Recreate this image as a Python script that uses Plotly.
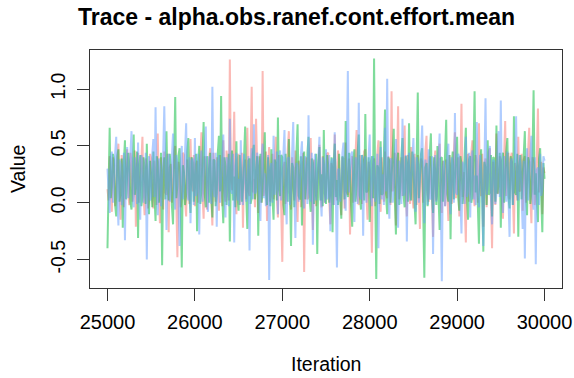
import numpy as np
import plotly.graph_objects as go

# Iterations (thinned draws, every 12.5 iterations) and chain values
iter_start, iter_end, n_draws = 25000, 30000, 401
iterations = np.linspace(iter_start, iter_end, n_draws)

chain1 = [
    0.12, 0.02, 0.41, 0.20, -0.08, 0.40, 0.33, -0.03, 0.05, 0.38, 0.52, 0.10, -0.15, 0.42, 0.28, -0.04, 0.18, 0.35, 0.47, 0.08,
    -0.02, 0.44, 0.36, 0.01, 0.09, 0.46, -0.21, 0.33, 0.44, 0.00, 0.15, 0.41, 0.58, 0.06, -0.11, 0.39, 0.30, -0.05, 0.02, 0.43,
    0.39, 0.03, -0.05, 0.37, 0.25, -0.02, 0.61, 0.14, -0.18, 0.40, 0.20, -0.06, 0.45, 0.09, 0.07, 0.43, -0.26, 0.31, 0.34, 0.00,
    0.13, 0.45, 0.50, 0.05, -0.48, 0.36, 0.27, -0.04, 0.04, 0.44, 0.42, 0.02, -0.12, 0.38, 0.22, -0.01, 0.56, 0.17, 0.10, 0.42,
    -0.03, 0.34, 0.37, 0.00, 0.19, 0.45, 0.62, 0.07, -0.14, 0.41, 0.31, -0.06, 0.08, 0.39, 0.48, 0.04, -0.20, 0.44, 0.26, 0.01,
    0.40, 0.08, -0.07, 0.42, 0.16, -0.03, 0.55, 0.12, 0.01, 0.46, 0.35, 0.02, 1.26, 0.20, 0.11, 0.33, 0.80, 0.05, -0.10, 0.38,
    0.43, -0.02, 0.17, 0.44, -0.22, 0.30, 0.38, 0.03, 0.66, 0.10, 0.06, 0.40, 1.02, 0.09, 0.21, -0.04, 0.74, 0.15, -0.09, 0.41,
    0.32, 0.00, 1.16, 0.06, 0.14, 0.45, -0.16, 0.36, 0.49, 0.01, 0.24, 0.43, 0.03, 0.39, 0.58, 0.04, -0.13, 0.42, 0.29, -0.05,
    -0.52, 0.31, 0.36, -0.01, 0.10, 0.47, 0.63, 0.08, -0.06, 0.40, 0.23, 0.02, 0.46, 0.11, -0.17, 0.37, 0.33, -0.04, 0.12, 0.44,
    -0.61, 0.28, 0.40, 0.03, 0.05, 0.42, 0.57, 0.10, -0.24, 0.38, 0.27, -0.03, 0.15, 0.45, 0.51, 0.06, -0.04, 0.41, 0.34, 0.00,
    0.09, 0.43, 0.44, 0.01, -0.19, 0.35, 0.30, -0.02, 0.60, 0.13, 0.02, 0.46, 0.37, 0.05, -0.11, 0.40, 0.25, -0.05, 0.53, 0.09,
    0.07, 0.39, -0.28, 0.22, 0.41, 0.00, 0.18, 0.44, 0.64, 0.04, -0.02, 0.42, 0.32, -0.01, 0.13, 0.45, 0.47, 0.07, -0.15, 0.36,
    0.28, 0.02, -0.44, 0.33, 0.39, -0.03, 0.11, 0.43, 0.55, 0.06, -0.08, 0.40, 0.22, 0.01, 0.45, 0.08, 0.04, 0.41, 0.35, -0.02,
    0.98, 0.10, 0.16, 0.44, -0.20, 0.30, 0.85, 0.03, 0.26, 0.40, 0.06, 0.37, 0.68, 0.05, -0.12, 0.42, 0.31, -0.01, 0.49, 0.07,
    -0.05, 0.43, 0.20, -0.02, 0.42, 0.04, -0.23, 0.39, 0.36, 0.00, 0.12, 0.46, 0.59, 0.08, 0.01, 0.41, 0.29, 0.03, -0.30, 0.35,
    0.46, 0.02, 0.17, 0.44, 0.52, 0.06, -0.09, 0.37, 0.24, -0.03, 0.38, 0.09, -0.16, 0.42, 0.33, -0.01, 0.08, 0.45, 0.62, 0.04,
    0.14, 0.40, -0.12, 0.31, 0.87, 0.05, 0.27, -0.02, -0.35, 0.38, 0.43, 0.01, 0.10, 0.44, 0.55, 0.07, -0.03, 0.42, 0.34, 0.00,
    0.70, 0.11, 0.06, 0.43, -0.21, 0.34, 0.39, -0.04, 0.19, 0.45, 0.48, 0.03, -0.40, 0.36, 0.25, -0.02, 0.61, 0.08, 0.09, 0.41,
    0.37, 0.01, -0.14, 0.40, 0.72, 0.06, 0.21, 0.44, 0.03, 0.39, 0.44, -0.03, -0.27, 0.35, 0.30, 0.02, 0.58, 0.10, 0.11, 0.43,
    -0.07, 0.38, 0.41, 0.00, 0.16, 0.46, 0.66, 0.05, -0.18, 0.40, 0.35, -0.02, 0.07, 0.42, 0.83, 0.09, 0.23, 0.36, -0.10, 0.31,
    0.26,
]

chain2 = [
    -0.40, 0.30, 0.66, 0.04, 0.14, 0.43, 0.38, -0.02, -0.12, 0.41, 0.47, 0.01, 0.09, 0.39, -0.22, 0.36, 0.55, 0.03, 0.20, 0.44,
    0.33, 0.00, -0.06, 0.42, 0.60, 0.07, 0.17, 0.45, -0.31, 0.34, 0.42, -0.03, 0.05, 0.40, 0.29, -0.01, 0.52, 0.10, -0.10, 0.37,
    0.24, -0.04, 0.45, 0.06, -0.16, 0.41, 0.36, 0.00, 0.11, 0.44, -0.55, 0.29, 0.40, 0.03, 0.63, 0.12, 0.02, 0.43, 0.31, -0.03,
    -0.19, 0.39, 0.93, 0.04, 0.15, 0.42, 0.48, 0.02, -0.57, 0.33, 0.27, -0.02, 0.07, 0.45, 0.57, 0.05, -0.09, 0.40, 0.35, 0.01,
    0.19, 0.43, -0.25, 0.36, 0.50, -0.01, 0.12, 0.46, 0.71, 0.08, -0.04, 0.41, 0.28, 0.00, 0.44, 0.06, -0.13, 0.38, 0.37, -0.03,
    0.08, 0.44, 0.59, 0.10, 0.94, 0.05, -0.18, 0.40, 0.32, -0.02, 0.16, 0.43, -0.34, 0.31, 0.46, 0.02, 0.23, -0.04, 0.54, 0.07,
    -0.07, 0.42, 0.30, 0.01, 0.13, 0.45, 0.67, 0.06, -0.23, 0.37, 0.39, -0.01, 0.04, 0.43, 0.51, 0.03, 0.18, 0.41, -0.29, 0.33,
    0.43, 0.00, 0.10, 0.44, 0.62, 0.09, -0.02, 0.40, 0.26, -0.03, 0.47, 0.05, -0.15, 0.38, 0.34, 0.02, 0.75, 0.11, 0.06, 0.42,
    0.40, -0.02, -0.11, 0.43, 0.22, 0.01, 0.56, 0.08, -0.38, 0.35, 0.31, -0.04, 0.14, 0.45, 0.69, 0.06, 0.03, 0.41, -0.20, 0.36,
    0.45, 0.03, 0.17, 0.44, 0.58, 0.04, -0.08, 0.39, 0.35, -0.01, 0.12, 0.43, -0.45, 0.30, 0.49, 0.02, 0.25, -0.03, 0.64, 0.08,
    -0.01, 0.42, 0.33, 0.00, 0.09, 0.40, -0.26, 0.35, 0.52, 0.05, 0.20, -0.02, 0.43, 0.07, -0.14, 0.41, 0.38, 0.03, 0.72, 0.10,
    0.05, 0.44, 0.28, -0.03, -0.21, 0.38, 0.47, 0.01, 0.15, 0.45, 0.60, 0.06, -0.06, 0.42, 0.36, 0.02, 0.78, 0.09, 0.11, 0.40,
    -0.17, 0.36, 0.41, 0.04, 1.27, 0.12, -0.67, 0.33, 0.30, -0.01, 0.54, 0.07, 0.08, 0.43, 0.82, 0.05, -0.10, 0.40, 0.37, 0.00,
    0.19, 0.44, 0.65, 0.03, -0.28, 0.37, 0.44, -0.02, 0.13, 0.42, 0.57, 0.06, -0.04, 0.41, 0.32, 0.01, 0.70, 0.10, 0.02, 0.45,
    0.39, 0.00, -0.19, 0.38, 0.97, 0.04, 0.21, 0.43, 0.48, 0.02, -0.66, 0.31, 0.35, -0.03, 0.10, 0.44, 0.61, 0.07, -0.09, 0.40,
    0.27, -0.02, 0.50, 0.05, -0.24, 0.39, 0.40, 0.01, 0.16, 0.44, 0.73, 0.08, 0.01, 0.42, -0.32, 0.34, 0.45, 0.03, 0.22, 0.43,
    0.58, 0.04, -0.07, 0.41, 0.34, -0.01, 0.12, 0.45, 0.66, 0.06, -0.15, 0.38, 0.41, 0.00, 0.06, 0.43, 0.98, 0.09, 0.24, -0.03,
    -0.36, 0.32, 0.47, 0.02, -0.43, 0.36, 0.30, -0.02, 0.55, 0.07, 0.09, 0.42, -0.12, 0.40, 0.39, 0.01, 0.68, 0.08, 0.18, 0.44,
    -0.22, 0.37, 0.44, 0.00, 0.14, 0.45, 0.57, 0.05, -0.05, 0.41, 0.33, -0.02, 0.76, 0.09, 0.07, 0.43, -0.30, 0.33, 0.42, 0.03,
    0.20, 0.44, 0.63, 0.06, -0.11, 0.40, 0.36, -0.01, 0.10, 0.42, 0.99, 0.07, 0.26, 0.01, -0.17, 0.39, 0.48, 0.04, -0.26, 0.35,
    0.21,
]

chain3 = [
    0.30, 0.02, -0.09, 0.41, 0.45, 0.00, 0.16, 0.43, 0.58, 0.06, -0.20, 0.38, 0.34, -0.02, 0.07, 0.44, -0.33, 0.31, 0.49, 0.04,
    0.22, 0.45, 0.63, 0.08, -0.04, 0.40, 0.28, -0.01, 0.53, 0.03, -0.15, 0.42, 0.37, 0.00, 0.12, 0.44, -0.50, 0.29, 0.41, 0.02,
    0.06, 0.43, 0.56, 0.05, 0.84, 0.10, -0.11, 0.39, 0.32, -0.03, 0.18, 0.44, 0.85, 0.07, -0.24, 0.36, 0.43, 0.01, 0.09, 0.41,
    0.61, 0.04, -0.06, 0.42, 0.35, 0.00, -0.38, 0.34, 0.50, 0.03, 0.15, 0.45, 0.70, 0.09, 0.02, 0.40, -0.18, 0.37, 0.39, -0.02,
    0.57, 0.06, 0.11, 0.43, -0.28, 0.33, 0.46, 0.01, 0.24, 0.42, 0.67, 0.05, -0.08, 0.41, 0.31, -0.01, 1.02, 0.12, 0.05, 0.44,
    -0.21, 0.35, 0.42, 0.00, 0.19, 0.45, 0.60, 0.07, -0.13, 0.40, 0.36, -0.03, 0.74, 0.10, 0.08, 0.43, -0.35, 0.32, 0.44, 0.02,
    0.21, -0.02, 0.55, 0.05, -0.02, 0.43, 0.29, 0.01, 0.14, 0.41, -0.42, 0.30, 0.48, 0.03, 0.69, 0.08, 0.10, 0.44, 0.38, -0.01,
    -0.16, 0.40, 0.52, 0.04, 0.26, -0.03, 0.04, 0.42, -0.68, 0.31, 0.35, 0.00, 0.59, 0.07, 0.13, 0.45, -0.10, 0.38, 0.46, 0.02,
    0.17, 0.43, 0.64, 0.06, -0.19, 0.39, 0.40, -0.02, 0.08, 0.44, 0.71, 0.09, -0.31, 0.35, 0.33, 0.01, 0.15, 0.42, 0.54, 0.03,
    -0.05, 0.41, 0.27, -0.01, 0.77, 0.08, 0.01, 0.44, -0.37, 0.33, 0.43, 0.02, 0.20, 0.45, 0.58, 0.05, -0.12, 0.40, 0.32, 0.00,
    0.47, 0.03, 0.06, 0.42, -0.25, 0.36, 0.39, -0.02, 0.62, 0.07, -0.57, 0.29, 0.30, 0.01, 0.11, 0.44, 0.53, 0.04, -0.07, 0.41,
    1.16, 0.09, 0.23, 0.43, 0.45, 0.02, -0.17, 0.40, 0.36, -0.01, 0.88, 0.06, 0.03, 0.42, -0.29, 0.34, 0.41, 0.00, 0.18, 0.45,
    0.60, 0.05, -0.03, 0.41, 0.34, 0.01, 0.14, 0.43, -0.40, 0.32, 0.49, 0.03, 0.25, -0.02, 0.66, 0.10, 1.09, 0.08, -0.14, 0.39,
    0.38, 0.00, 0.09, 0.44, 0.56, 0.04, -0.22, 0.37, 0.31, -0.01, 0.74, 0.06, 0.12, 0.42, -0.34, 0.33, 0.44, 0.02, 0.20, 0.45,
    0.57, 0.07, -0.08, 0.40, 0.35, 0.00, 0.16, 0.43, 0.68, 0.05, -0.18, 0.38, 0.29, -0.02, 0.47, 0.03, 0.04, 0.41, -0.45, 0.31,
    0.42, 0.01, 0.22, 0.44, 0.61, 0.06, -0.69, 0.30, 0.37, -0.03, 0.13, 0.42, 0.52, 0.04, -0.10, 0.40, 0.28, 0.00, 0.79, 0.09,
    0.07, 0.43, 0.40, 0.02, -0.27, 0.36, 0.33, -0.01, 0.58, 0.05, 0.11, 0.44, -0.13, 0.39, 0.46, 0.03, 0.24, -0.02, 0.71, 0.08,
    -0.04, 0.42, 0.30, 0.00, -0.38, 0.33, 0.92, 0.07, 0.15, 0.44, 0.50, 0.03, -0.19, 0.38, 0.36, -0.01, 0.08, 0.45, 0.63, 0.05,
    0.90, 0.06, -0.09, 0.41, 0.27, 0.01, 0.45, 0.04, -0.30, 0.35, 0.39, -0.02, 0.17, 0.43, 0.76, 0.08, 0.02, 0.42, 0.34, 0.00,
    -0.23, 0.37, -0.49, 0.32, 0.48, 0.02, 0.21, 0.44, 0.59, 0.05, -0.06, 0.40, -0.54, 0.29, 0.31, -0.02, 0.43, 0.06, 0.12, 0.41,
    0.37,
]

chains = [chain1, chain2, chain3]
chain_colors = ["rgba(248,118,109,0.5)", "rgba(0,186,56,0.5)", "rgba(97,156,255,0.5)"]

x_ticks = [25000, 26000, 27000, 28000, 29000, 30000]
x_tick_labels = ["25000", "26000", "27000", "28000", "29000", "30000"]
y_ticks = [-0.5, 0.0, 0.5, 1.0]
y_tick_labels = ["-0.5", "0.0", "0.5", "1.0"]

fig = go.Figure()
for vals, col in zip(chains, chain_colors):
    fig.add_trace(go.Scatter(x=iterations, y=vals, mode="lines",
                             line=dict(color=col, width=2), showlegend=False,
                             hoverinfo="skip"))

font_family = "Liberation Sans, Arial, sans-serif"
fig.update_layout(
    width=574, height=378,
    margin=dict(l=90, r=12, t=50, b=90, autoexpand=False),
    paper_bgcolor="white", plot_bgcolor="white",
    font=dict(family=font_family, color="black"),
    title=dict(text="<b>Trace - alpha.obs.ranef.cont.effort.mean</b>",
               x=296.5 / 574, xanchor="center", xref="container",
               y=1 - 17 / 378, yanchor="middle", yref="container",
               font=dict(size=23, family=font_family, color="black")),
)
fig.update_xaxes(range=[24800, 30200], tickmode="array", tickvals=x_ticks,
                 ticktext=x_tick_labels, ticks="outside", ticklen=12,
                 tickcolor="#333", tickwidth=1, showgrid=False, zeroline=False,
                 showline=True, linecolor="#333", linewidth=1, mirror=True,
                 tickfont=dict(size=20), ticklabelstandoff=4, automargin=False)
fig.update_yaxes(range=[-0.75, 1.344], tickmode="array", tickvals=y_ticks,
                 ticktext=y_tick_labels, ticks="outside", ticklen=12,
                 tickcolor="#333", tickwidth=1, showgrid=False, zeroline=False,
                 showline=True, linecolor="#333", linewidth=1, mirror=True,
                 tickangle=-90, tickfont=dict(size=19.5), ticklabelstandoff=4,
                 automargin=False)

fig.add_annotation(text="Iteration", xref="paper", yref="paper", x=0.5,
                   y=0, yshift=-76, showarrow=False, xanchor="center",
                   yanchor="middle", font=dict(size=19.5))
fig.add_annotation(text="Value", xref="paper", yref="paper", x=0, xshift=-72,
                   y=0.5, showarrow=False, textangle=-90, xanchor="center",
                   yanchor="middle", font=dict(size=19.5))

fig.write_html("out.html")
